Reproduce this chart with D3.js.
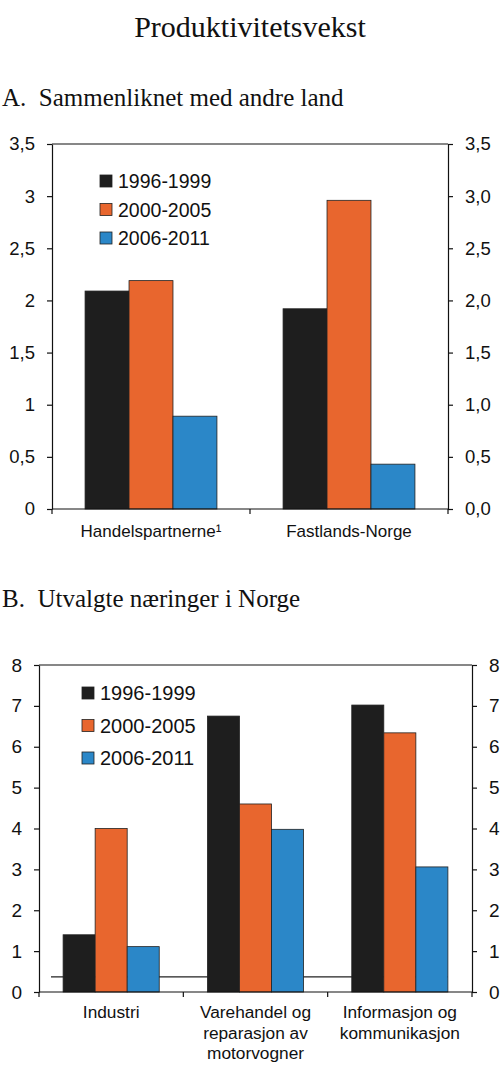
<!DOCTYPE html>
<html>
<head>
<meta charset="utf-8">
<script src="https://cdn.jsdelivr.net/npm/d3@7"></script>
<style>
  body { margin: 0; background: #fff; }
  svg text { font-family: "Liberation Sans", Arial, sans-serif; fill: #111; }
  .serif { font-family: "Liberation Serif", "Times New Roman", serif !important; }
</style>
</head>
<body>
<div id="vis"></div>
<script>
// ----------------
// data
// ----------------
const periods = ["1996-1999", "2000-2005", "2006-2011"];
const colors = ["#1e1e1e", "#e8662e", "#2b87c8"];

const categoriesA = ["Handelspartnerne¹", "Fastlands-Norge"];
const valuesA = [
    [2.09, 1.92],   // 1996-1999
    [2.19, 2.96],   // 2000-2005
    [0.89, 0.43]    // 2006-2011
];
const ticksA = [0, 0.5, 1, 1.5, 2, 2.5, 3, 3.5];

const categoriesB = [
    ["Industri"],
    ["Varehandel og", "reparasjon av", "motorvogner"],
    ["Informasjon og", "kommunikasjon"]
];
const valuesB = [
    [1.40, 6.75, 7.02],
    [4.00, 4.60, 6.34],
    [1.11, 3.98, 3.06]
];
const ticksB = [0, 1, 2, 3, 4, 5, 6, 7, 8];
const lineB = 0.37;   // thin horizontal line behind the bars

const nb = d3.formatLocale({decimal: ",", thousands: " ", grouping: [3], currency: ["", " kr"]});

const svg = d3.select("#vis").append("svg")
    .attr("width", 500)
    .attr("height", 1077);

// titles
svg.append("text").attr("class", "serif")
    .attr("x", 250).attr("y", 37)
    .attr("text-anchor", "middle")
    .style("font-size", "30px")
    .text("Produktivitetsvekst");

svg.append("text").attr("class", "serif")
    .attr("x", 2).attr("y", 106)
    .style("font-size", "25px")
    .attr("xml:space", "preserve")
    .text("A.  Sammenliknet med andre land");

svg.append("text").attr("class", "serif")
    .attr("x", 2).attr("y", 607)
    .style("font-size", "25px")
    .attr("xml:space", "preserve")
    .text("B.  Utvalgte næringer i Norge");

// ----------------
// one panel
// ----------------
function drawPanel(cfg) {
    const g = svg.append("g");
    const n = cfg.categories.length;

    const x = d3.scaleBand()
        .domain(d3.range(n))
        .range([cfg.left, cfg.right]);

    const xInner = d3.scaleBand()
        .domain(d3.range(periods.length))
        .range([x.bandwidth() * 0.167, x.bandwidth() * 0.833]);

    const y = d3.scaleLinear()
        .domain([0, cfg.max])
        .range([cfg.bottom, cfg.top]);

    // reference line (behind bars)
    if (cfg.line != null) {
        g.append("line")
            .attr("x1", cfg.left + 12).attr("x2", cfg.right - 24)
            .attr("y1", y(cfg.line)).attr("y2", y(cfg.line))
            .attr("stroke", "#222").attr("stroke-width", 1.2);
    }

    // bars
    periods.forEach((p, i) => {
        g.selectAll(null)
            .data(cfg.values[i])
            .join("rect")
            .attr("x", (d, j) => x(j) + xInner(i))
            .attr("width", xInner.bandwidth())
            .attr("y", d => y(d))
            .attr("height", d => y(0) - y(d))
            .attr("fill", colors[i])
            .attr("stroke", "#222")
            .attr("stroke-width", 0.8);
    });

    // axes
    const left = g.append("g")
        .attr("transform", `translate(${cfg.left},0)`)
        .call(d3.axisLeft(y).tickValues(cfg.ticks).tickSize(5).tickSizeOuter(0).tickPadding(12)
            .tickFormat(cfg.leftFmt));
    const right = g.append("g")
        .attr("transform", `translate(${cfg.right},0)`)
        .call(d3.axisRight(y).tickValues(cfg.ticks).tickSize(5).tickSizeOuter(0).tickPadding(12)
            .tickFormat(cfg.rightFmt));
    [left, right].forEach(a => {
        a.selectAll("text").style("font-size", cfg.tickFont + "px").attr("fill", "#111");
        a.selectAll("line, path").attr("stroke", "#111").attr("stroke-width", 1.2);
    });

    // top and bottom lines
    g.append("line")
        .attr("x1", cfg.left).attr("x2", cfg.right)
        .attr("y1", cfg.top).attr("y2", cfg.top)
        .attr("stroke", "#111").attr("stroke-width", 1.2);
    g.append("line")
        .attr("x1", cfg.left).attr("x2", cfg.right)
        .attr("y1", cfg.bottom).attr("y2", cfg.bottom)
        .attr("stroke", "#111").attr("stroke-width", 1.2);

    // category boundary ticks
    const bounds = d3.range(n).map(j => x(j)).concat([cfg.right]);
    g.selectAll(null)
        .data(bounds)
        .join("line")
        .attr("x1", d => d).attr("x2", d => d)
        .attr("y1", cfg.bottom).attr("y2", cfg.bottom + 5)
        .attr("stroke", "#111").attr("stroke-width", 1.2);

    // category labels
    cfg.categories.forEach((c, j) => {
        const lines = Array.isArray(c) ? c : [c];
        const t = g.append("text")
            .attr("text-anchor", "middle")
            .style("font-size", cfg.catFont + "px");
        lines.forEach((l, k) => {
            t.append("tspan")
                .attr("x", x(j) + x.bandwidth() / 2)
                .attr("y", cfg.bottom + cfg.catOffset + k * 20.5)
                .text(l);
        });
    });

    // legend
    const leg = g.append("g");
    periods.forEach((p, i) => {
        const ly = cfg.legend.y + i * cfg.legend.step;
        leg.append("rect")
            .attr("x", cfg.legend.x).attr("y", ly - 6)
            .attr("width", 12).attr("height", 12)
            .attr("fill", colors[i])
            .attr("stroke", "#222").attr("stroke-width", 0.8);
        leg.append("text")
            .attr("x", cfg.legend.x + 18).attr("y", ly)
            .attr("dy", "0.36em")
            .style("font-size", cfg.legend.font + "px")
            .text(p);
    });
}

drawPanel({
    categories: categoriesA,
    values: valuesA,
    ticks: ticksA,
    max: 3.5,
    left: 52, right: 448, top: 144, bottom: 509,
    leftFmt: d => nb.format("~g")(d).replace(".", ","),
    rightFmt: nb.format(".1f"),
    tickFont: 18.5,
    catFont: 17,
    catOffset: 28,
    legend: {x: 100, y: 181, step: 28.5, font: 19.5}
});

drawPanel({
    categories: categoriesB,
    values: valuesB,
    ticks: ticksB,
    max: 8,
    line: lineB,
    left: 39, right: 472, top: 665, bottom: 992,
    leftFmt: d3.format("d"),
    rightFmt: d3.format("d"),
    tickFont: 19,
    catFont: 17.3,
    catOffset: 26,
    legend: {x: 82, y: 693, step: 32.5, font: 20}
});
</script>
</body>
</html>
